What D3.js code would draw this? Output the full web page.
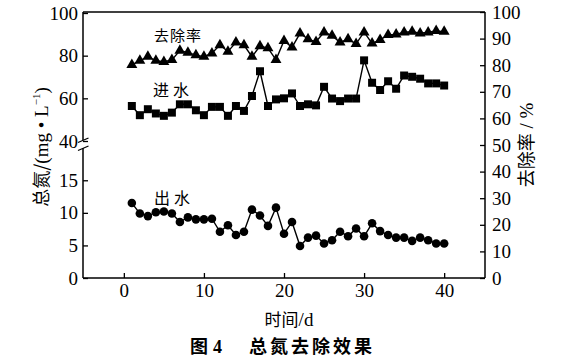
<!DOCTYPE html>
<html><head><meta charset="utf-8">
<script src="https://cdn.jsdelivr.net/npm/d3@7"></script>
<style>body{margin:0;background:#fff}svg{display:block}</style>
</head><body><svg id="c" width="573" height="360"></svg>
<script>
const days = [1,2,3,4,5,6,7,8,9,10,11,12,13,14,15,16,17,18,19,20,21,22,23,24,25,26,27,28,29,30,31,32,33,34,35,36,37,38,39,40];
const removalRate = [80.1,81.7,83.2,81.7,81.3,82.0,85.5,84.7,83.8,83.2,84.5,87.6,85.1,88.6,87.6,83.2,87.2,86.4,82.0,89.2,86.7,92.0,89.8,88.8,92.4,91.1,88.6,89.8,88.0,92.4,88.2,89.5,91.4,91.6,92.4,92.6,92.0,92.4,92.9,92.6];
const influent = [56.4,52.1,54.9,52.9,51.8,53.3,57.2,57.2,54.4,52.1,56.0,56.0,51.8,56.4,54.1,61.1,72.7,56.4,59.5,60.0,62.3,56.4,57.2,56.7,65.4,59.9,58.7,59.9,59.9,77.8,67.3,63.9,68.0,64.5,70.7,70.1,69.2,67.0,67.0,66.0];
const effluent = [11.5,9.9,9.5,10.1,10.2,9.9,8.6,9.3,9.0,9.0,9.1,7.1,8.1,6.6,7.1,10.5,9.6,8.0,10.8,6.8,8.6,4.9,6.2,6.5,5.3,5.8,7.1,6.4,7.6,6.4,8.4,7.2,6.6,6.2,6.2,5.7,6.2,5.8,5.3,5.3];
const xTicks = [0,10,20,30,40];
const yLowTicks = [0,5,10,15];
const yHighTicks = [40,60,80,100];
const yRightTicks = [0,10,20,30,40,50,60,70,80,90,100];

const svg = d3.select("#c");
const L = 83, R = 485, T = 12, B = 278;
const x = d3.scaleLinear().domain([-5.1, 45.1]).range([L, R]);
const yLow = d3.scaleLinear().domain([0, 20]).range([B, 147.7]);
const yHigh = d3.scaleLinear().domain([40, 100]).range([141, 13]);
const yR = d3.scaleLinear().domain([0, 100]).range([B, T]);

const serif = "'Liberation Serif','Times New Roman',serif";
const cjk = "'Noto Sans CJK SC',sans-serif";

function styleAxis(g){
  g.selectAll("text").attr("font-family", serif).attr("font-size", 19).attr("fill", "#000");
  g.selectAll("line").attr("stroke", "#000").attr("stroke-width", 1.3);
  g.select(".domain").remove();
}

// frame lines
svg.append("line").attr("x1", L).attr("x2", R).attr("y1", T).attr("y2", T).attr("stroke", "#000").attr("stroke-width", 1.5);
svg.append("line").attr("x1", L).attr("x2", R).attr("y1", B).attr("y2", B).attr("stroke", "#000").attr("stroke-width", 1.5);
svg.append("line").attr("x1", R).attr("x2", R).attr("y1", T).attr("y2", B).attr("stroke", "#000").attr("stroke-width", 1.5);
svg.append("line").attr("x1", L).attr("x2", L).attr("y1", T).attr("y2", 140).attr("stroke", "#000").attr("stroke-width", 1.5);
svg.append("line").attr("x1", L).attr("x2", L).attr("y1", 148).attr("y2", B).attr("stroke", "#000").attr("stroke-width", 1.5);
// break marks
svg.append("line").attr("x1", 78).attr("y1", 142.5).attr("x2", 88.5).attr("y2", 138).attr("stroke", "#000").attr("stroke-width", 1.3);
svg.append("line").attr("x1", 78).attr("y1", 150.5).attr("x2", 88.5).attr("y2", 146).attr("stroke", "#000").attr("stroke-width", 1.3);

// axes
svg.append("g").attr("transform", `translate(0,${B})`)
  .call(d3.axisBottom(x).tickValues(xTicks).tickSizeInner(-5).tickSizeOuter(0).tickPadding(6))
  .call(styleAxis);
svg.append("g").attr("transform", `translate(${L},0)`)
  .call(d3.axisLeft(yHigh).tickValues(yHighTicks).tickSizeInner(-5).tickSizeOuter(0).tickPadding(5))
  .call(styleAxis);
svg.append("g").attr("transform", `translate(${L},0)`)
  .call(d3.axisLeft(yLow).tickValues(yLowTicks).tickSizeInner(-5).tickSizeOuter(0).tickPadding(5))
  .call(styleAxis);
svg.append("g").attr("transform", `translate(${R},0)`)
  .call(d3.axisRight(yR).tickValues(yRightTicks).tickSizeInner(-5).tickSizeOuter(0).tickPadding(7))
  .call(styleAxis);

// series
function series(vals, yScale, symType, size){
  const pts = days.map((d, i) => [x(d), yScale(vals[i])]);
  svg.append("path").attr("d", d3.line()(pts)).attr("fill", "none").attr("stroke", "#000").attr("stroke-width", 1.4);
  svg.append("g").selectAll("path").data(pts).join("path")
    .attr("transform", p => `translate(${p[0]},${p[1]})`)
    .attr("d", d3.symbol().type(symType).size(size))
    .attr("fill", "#000");
}
series(removalRate, yR, d3.symbolTriangle, 52);
series(influent, yHigh, d3.symbolSquare, 64);
series(effluent, yLow, d3.symbolCircle, 58);

// annotations
svg.append("text").attr("x", 154).attr("y", 41).attr("font-family", cjk).attr("font-size", 15).attr("letter-spacing", 1).text("去除率");
svg.append("text").attr("x", 153).attr("y", 96).attr("font-family", cjk).attr("font-size", 16).attr("letter-spacing", 4).text("进水");
svg.append("text").attr("x", 154).attr("y", 204).attr("font-family", cjk).attr("font-size", 16).attr("letter-spacing", 4).text("出水");

// left title
const lt = svg.append("text").attr("transform", "translate(48,147) rotate(-90)").attr("text-anchor", "middle").attr("font-size", 18);
lt.append("tspan").attr("font-family", cjk).text("总氮/");
lt.append("tspan").attr("font-family", serif).attr("font-size", 19).text("(mg • L");
lt.append("tspan").attr("font-family", serif).attr("font-size", 11).attr("dy", -8).text("−1");
lt.append("tspan").attr("font-family", serif).attr("font-size", 19).attr("dy", 8).text(")");

// right title
const rt = svg.append("text").attr("transform", "translate(533,145) rotate(-90)").attr("text-anchor", "middle").attr("font-size", 18);
rt.append("tspan").attr("font-family", cjk).text("去除率");
rt.append("tspan").attr("font-family", serif).attr("font-size", 19).text(" / %");

// x title
const xt = svg.append("text").attr("x", 289).attr("y", 326).attr("text-anchor", "middle").attr("font-size", 17);
xt.append("tspan").attr("font-family", cjk).text("时间");
xt.append("tspan").attr("font-family", serif).attr("font-size", 19).text("/d");

// caption
const cap = svg.append("text").attr("y", 353).attr("font-weight", "bold").attr("font-size", 18);
cap.append("tspan").attr("x", 190).attr("font-family", cjk).text("图");
cap.append("tspan").attr("font-family", serif).attr("font-size", 18).attr("dx", 5).text("4");
cap.append("tspan").attr("x", 249).attr("font-family", cjk).attr("letter-spacing", 3).text("总氮去除效果");
</script></body></html>
